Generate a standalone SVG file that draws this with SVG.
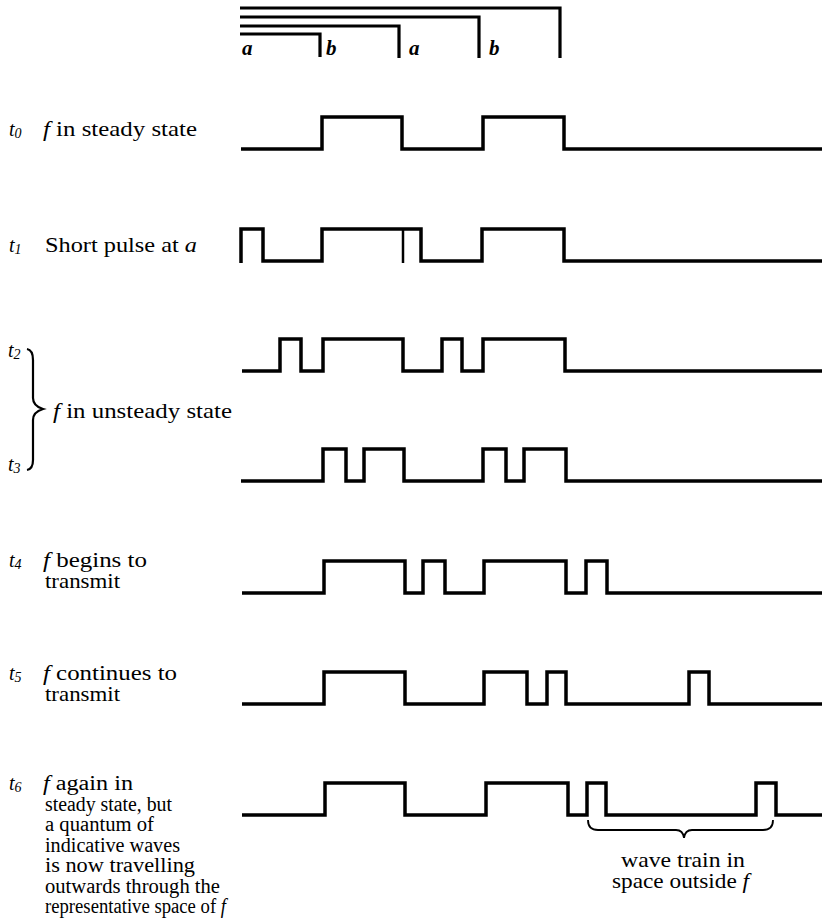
<svg xmlns="http://www.w3.org/2000/svg" width="823" height="918" viewBox="0 0 823 918">
<style>
.w{fill:none;stroke:#000;stroke-width:3.5;stroke-linejoin:miter;stroke-linecap:butt}
.br{fill:none;stroke:#000;stroke-width:3.2}
.thin{fill:none;stroke:#000;stroke-width:1.8}
text{font-family:"Liberation Serif","Times New Roman",serif;font-size:21px;fill:#000}
.lab{font-weight:bold;font-style:italic;font-size:21px}
.t{font-style:italic;font-size:20px}
.sub{font-size:14px}
.i{font-style:italic}
.sm{font-size:20px}
</style>
<rect width="823" height="918" fill="#fff"/>
<g id="scale">
<path class="br" d="M240,8 H560 V58 M240,17 H479 V58 M240,26 H399 V58 M240,34 H320 V57"/>
<text class="lab" x="242" y="55">a</text>
<text class="lab" x="326" y="55">b</text>
<text class="lab" x="409" y="55">a</text>
<text class="lab" x="489" y="55">b</text>
</g>
<g id="connectors">
<path class="w" d="M241,149 H322 V117 H402 V149 H483 V117 H564 V149 H822"/>
<path class="w" d="M241,263 V229 H263 V261 H322 V229 H421 V261 H482 V229 H564 V261 H822"/>
<path class="w" style="stroke-width:2.5" d="M403,229 V263"/>
<path class="w" d="M242,371 H280 V339 H301 V371 H323 V339 H403 V371 H442 V339 H462 V371 H483 V339 H565 V371 H822"/>
<path class="w" d="M241,481 H323 V449 H346 V481 H364 V449 H404 V481 H483 V449 H506 V481 H524 V449 H566 V481 H822"/>
<path class="w" d="M242,593 H324 V561 H405 V593 H423 V561 H445 V593 H484 V561 H566 V593 H586 V561 H607 V593 H822"/>
<path class="w" d="M242,704 H324 V672 H405 V704 H484 V672 H527 V704 H547 V672 H566 V704 H689 V672 H709 V704 H822"/>
<path class="w" d="M242,815 H325 V783 H405 V815 H486 V783 H568 V815 H587 V783 H606 V815 H756 V783 H776 V815 H822"/>
<path class="thin" style="stroke-width:2.2" d="M27,349 Q33,350 33,360 V398 Q33,406 43,409 Q33,412 33,420 V460 Q33,469 27,470"/>
<path class="thin" d="M588,820 Q588,830 598,830 H676 Q683,830 684,838 Q685,830 692,830 H763 Q773,830 773,820"/>
</g>
<g id="t0">
<text class="t" x="9" y="136">t<tspan class="sub" dy="2">0</tspan></text>
<text x="43" y="136" textLength="154" lengthAdjust="spacingAndGlyphs"><tspan class="i">f</tspan> in steady state</text>
</g>
<g id="t1">
<text class="t" x="9" y="252">t<tspan class="sub" dy="2">1</tspan></text>
<text x="45" y="252" textLength="152" lengthAdjust="spacingAndGlyphs">Short pulse at <tspan class="i">a</tspan></text>
</g>
<g id="t2">
<text class="t" x="8" y="357">t<tspan class="sub" dy="2">2</tspan></text>
</g>
<g id="unsteady">
<text x="53" y="418" textLength="179" lengthAdjust="spacingAndGlyphs"><tspan class="i">f</tspan> in unsteady state</text>
</g>
<g id="t3">
<text class="t" x="8" y="471">t<tspan class="sub" dy="2">3</tspan></text>
</g>
<g id="t4">
<text class="t" x="9" y="567">t<tspan class="sub" dy="2">4</tspan></text>
<text x="43" y="567" textLength="104" lengthAdjust="spacingAndGlyphs"><tspan class="i">f</tspan> begins to</text>
<text x="45" y="588" textLength="75" lengthAdjust="spacingAndGlyphs">transmit</text>
</g>
<g id="t5">
<text class="t" x="9" y="680">t<tspan class="sub" dy="2">5</tspan></text>
<text x="43" y="680" textLength="134" lengthAdjust="spacingAndGlyphs"><tspan class="i">f</tspan> continues to</text>
<text x="45" y="701" textLength="75" lengthAdjust="spacingAndGlyphs">transmit</text>
</g>
<g id="t6">
<text class="t" x="9" y="790">t<tspan class="sub" dy="2">6</tspan></text>
<text class="sm" x="43" y="790" textLength="90" lengthAdjust="spacingAndGlyphs"><tspan class="i">f</tspan> again in</text>
<text class="sm" x="45" y="810.5" textLength="127" lengthAdjust="spacingAndGlyphs">steady state, but</text>
<text class="sm" x="45" y="831" textLength="109" lengthAdjust="spacingAndGlyphs">a quantum of</text>
<text class="sm" x="45" y="851.5" textLength="135" lengthAdjust="spacingAndGlyphs">indicative waves</text>
<text class="sm" x="45" y="872" textLength="150" lengthAdjust="spacingAndGlyphs">is now travelling</text>
<text class="sm" x="45" y="892.5" textLength="175" lengthAdjust="spacingAndGlyphs">outwards through the</text>
<text class="sm" x="45" y="913" textLength="181" lengthAdjust="spacingAndGlyphs">representative space of <tspan class="i">f</tspan></text>
</g>
<g id="wavetrain">
<text x="621" y="867" textLength="124" lengthAdjust="spacingAndGlyphs">wave train in</text>
<text x="612" y="888" textLength="137" lengthAdjust="spacingAndGlyphs">space outside <tspan class="i">f</tspan></text>
</g>
</svg>
